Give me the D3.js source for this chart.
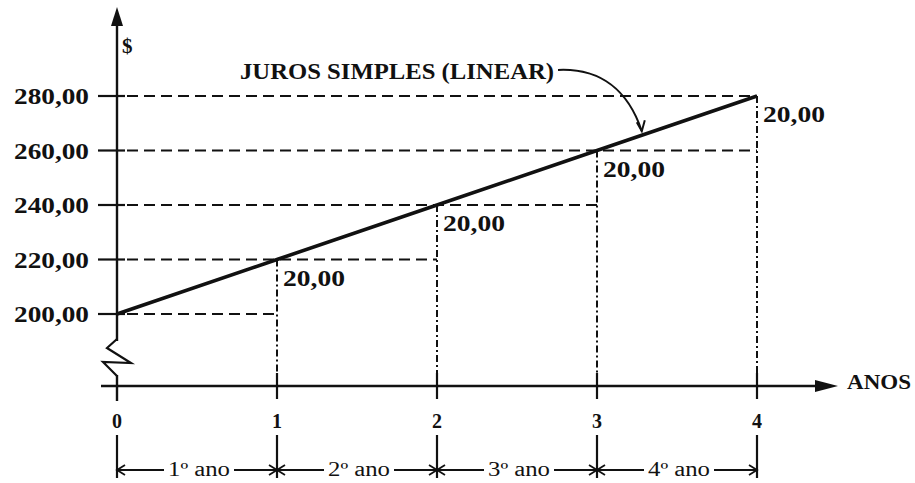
<!DOCTYPE html>
<html>
<head>
<meta charset="utf-8">
<script src="https://cdn.jsdelivr.net/npm/d3@7"></script>
<style>
  body { margin: 0; background: #fff; }
  text { font-family: "Liberation Serif", "Times New Roman", serif; fill: #111; }
</style>
</head>
<body>
<script>
// Years and amounts (simple interest, R$200 at 20 per year)
const years = [0, 1, 2, 3, 4];
const amounts = [200, 220, 240, 260, 280];
const yTickLabels = ["200,00", "220,00", "240,00", "260,00", "280,00"];
const increments = ["20,00", "20,00", "20,00", "20,00"];
const periodLabels = ["1º ano", "2º ano", "3º ano", "4º ano"];

const width = 915, height = 483;
const axisY = 386; // x axis sits below the broken y axis

const x = d3.scaleLinear().domain([0, 4]).range([117, 757]);
const y = d3.scaleLinear().domain([200, 280]).range([314, 96]);

const svg = d3.select("body").append("svg")
  .attr("width", width)
  .attr("height", height);

// y axis with arrow on top
svg.append("line")
  .attr("x1", x(0)).attr("x2", x(0))
  .attr("y1", 22).attr("y2", 401)
  .attr("stroke", "#111").attr("stroke-width", 2.4);
svg.append("path")
  .attr("d", `M${x(0)},7 L${x(0) - 6},26 L${x(0) + 6},26 Z`)
  .attr("fill", "#111");

// break mark on the y axis
svg.append("rect")
  .attr("x", x(0) - 3).attr("y", 341).attr("width", 6).attr("height", 34)
  .attr("fill", "#fff");
svg.append("path")
  .attr("d", `M${x(0)},339 L${x(0) - 10},348 L${x(0) + 14},363 L${x(0) - 14},362 L${x(0)},376`)
  .attr("fill", "none").attr("stroke", "#111").attr("stroke-width", 2.2);

svg.append("text")
  .attr("x", 122).attr("y", 53)
  .attr("font-size", 21).attr("font-weight", "bold")
  .text("$");

// x axis with arrow
svg.append("line")
  .attr("x1", 101).attr("x2", 822)
  .attr("y1", axisY).attr("y2", axisY)
  .attr("stroke", "#111").attr("stroke-width", 2.4);
svg.append("path")
  .attr("d", `M838,${axisY} L815,${axisY - 6} L815,${axisY + 6} Z`)
  .attr("fill", "#111");
svg.append("text")
  .attr("x", 847).attr("y", 389)
  .attr("font-size", 22).attr("font-weight", "bold")
  .attr("textLength", 64).attr("lengthAdjust", "spacingAndGlyphs")
  .text("ANOS");

// y ticks, labels and dashed guides
amounts.forEach((v, i) => {
  const yy = y(v);
  svg.append("line")
    .attr("x1", 98).attr("x2", 125)
    .attr("y1", yy).attr("y2", yy)
    .attr("stroke", "#111").attr("stroke-width", 2.2);
  svg.append("text")
    .attr("x", 89).attr("y", yy + 8)
    .attr("text-anchor", "end")
    .attr("font-size", 23).attr("font-weight", "bold")
    .attr("textLength", 75).attr("lengthAdjust", "spacingAndGlyphs")
    .text(yTickLabels[i]);
  const target = years[Math.min(i + 1, years.length - 1)];
  svg.append("line")
    .attr("x1", 127).attr("x2", x(target))
    .attr("y1", yy).attr("y2", yy)
    .attr("stroke", "#111").attr("stroke-width", 2)
    .attr("stroke-dasharray", "11,6");
});

// vertical dashed guides and x ticks
years.slice(1).forEach((yr, i) => {
  svg.append("line")
    .attr("x1", x(yr)).attr("x2", x(yr))
    .attr("y1", y(amounts[i + 1])).attr("y2", axisY - 12)
    .attr("stroke", "#111").attr("stroke-width", 2)
    .attr("stroke-dasharray", "7,3,2,3");
  svg.append("line")
    .attr("x1", x(yr)).attr("x2", x(yr))
    .attr("y1", axisY - 13).attr("y2", axisY + 13)
    .attr("stroke", "#111").attr("stroke-width", 2.2);
});

years.forEach(yr => {
  svg.append("text")
    .attr("x", x(yr)).attr("y", 428)
    .attr("text-anchor", "middle")
    .attr("font-size", 20).attr("font-weight", "bold")
    .text(yr);
});

// the simple interest line
const line = d3.line().x((d, i) => x(years[i])).y(d => y(d));
svg.append("path")
  .datum(amounts)
  .attr("d", line)
  .attr("fill", "none")
  .attr("stroke", "#111")
  .attr("stroke-width", 3.6);

// increment labels under each point
increments.forEach((lab, i) => {
  svg.append("text")
    .attr("x", x(years[i + 1]) + 6).attr("y", y(amounts[i + 1]) + 26)
    .attr("font-size", 23).attr("font-weight", "bold")
    .attr("textLength", 62).attr("lengthAdjust", "spacingAndGlyphs")
    .text(lab);
});

// annotation with curved leader
svg.append("text")
  .attr("x", 240).attr("y", 79)
  .attr("font-size", 23).attr("font-weight", "bold")
  .attr("textLength", 314).attr("lengthAdjust", "spacingAndGlyphs")
  .text("JUROS SIMPLES (LINEAR)");
const ex = x(3.28), ey = y(200 + 20 * 3.28) - 4;
svg.append("path")
  .attr("d", `M558,70 C600,68 628,90 ${ex},${ey}`)
  .attr("fill", "none").attr("stroke", "#111").attr("stroke-width", 2);
svg.append("path")
  .attr("d", `M${ex - 5},${ey - 9} L${ex},${ey} L${ex + 3},${ey - 11}`)
  .attr("fill", "none").attr("stroke", "#111").attr("stroke-width", 2);

// period brackets under the x axis
const brY = 470;
years.forEach(yr => {
  svg.append("line")
    .attr("x1", x(yr)).attr("x2", x(yr))
    .attr("y1", 435).attr("y2", 478)
    .attr("stroke", "#111").attr("stroke-width", 2.2);
});
periodLabels.forEach((lab, i) => {
  const x0 = x(years[i]), x1 = x(years[i + 1]);
  const cx = (x0 + x1) / 2 + 2;
  const half = 31;
  svg.append("text")
    .attr("x", cx).attr("y", 476)
    .attr("text-anchor", "middle")
    .attr("font-size", 20)
    .attr("textLength", 62).attr("lengthAdjust", "spacingAndGlyphs")
    .text(lab);
  svg.append("line")
    .attr("x1", x0).attr("x2", cx - half - 4)
    .attr("y1", brY).attr("y2", brY)
    .attr("stroke", "#111").attr("stroke-width", 2);
  svg.append("line")
    .attr("x1", cx + half + 4).attr("x2", x1)
    .attr("y1", brY).attr("y2", brY)
    .attr("stroke", "#111").attr("stroke-width", 2);
  // arrow heads toward each end
  svg.append("path")
    .attr("d", `M${x0 + 8},${brY - 5} L${x0},${brY} L${x0 + 8},${brY + 5}`)
    .attr("fill", "none").attr("stroke", "#111").attr("stroke-width", 1.8);
  svg.append("path")
    .attr("d", `M${x1 - 8},${brY - 5} L${x1},${brY} L${x1 - 8},${brY + 5}`)
    .attr("fill", "none").attr("stroke", "#111").attr("stroke-width", 1.8);
});
</script>
</body>
</html>
